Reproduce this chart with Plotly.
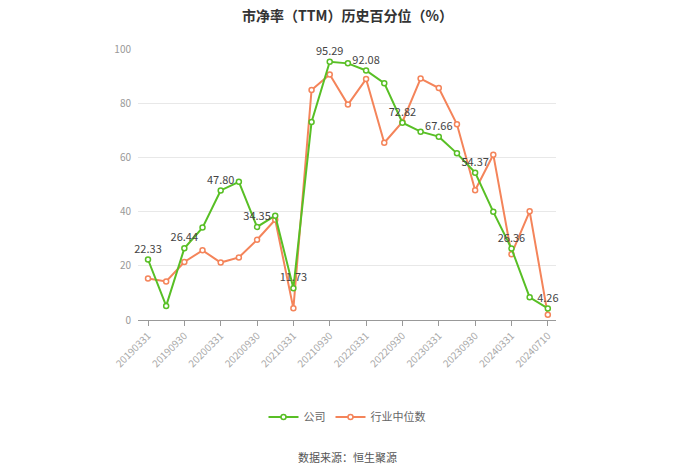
import plotly.graph_objects as go

dates = ["20190331", "20190630", "20190930", "20191231",
         "20200331", "20200630", "20200930", "20201231",
         "20210331", "20210630", "20210930", "20211231",
         "20220331", "20220630", "20220930", "20221231",
         "20230331", "20230630", "20230930", "20231231",
         "20240331", "20240630", "20240710"]

company = [22.33, 5.2, 26.44, 34.1, 47.80, 51.0, 34.35, 38.5, 11.73, 73.1,
           95.29, 94.7, 92.08, 87.4, 72.82, 69.5, 67.66, 61.5, 54.37, 39.9,
           26.36, 8.4, 4.26]

industry = [15.3, 14.2, 21.4, 25.7, 21.2, 23.1, 29.6, 37.0, 4.3, 84.9,
            90.6, 79.5, 88.9, 65.4, 73.1, 89.1, 85.6, 72.2, 47.9, 61.0,
            24.3, 40.1, 1.9]

title_text = "<b>市净率（TTM）历史百分位（%）</b>"
source_text = "数据来源：恒生聚源"

label_idx = list(range(0, len(dates), 2))
company_text = [f"{v:.2f}" if i in label_idx else "" for i, v in enumerate(company)]

green = "#58bf25"
orange = "#f4845a"
font_family = "Noto Sans CJK SC, Noto Sans, sans-serif"

W, H = 700, 474
OFF = 8  # page body margin
x = list(range(len(dates)))

fig = go.Figure()
fig.add_trace(go.Scatter(
    x=x, y=industry, name="行业中位数", mode="lines+markers",
    line=dict(color=orange, width=2),
    marker=dict(symbol="circle", size=5, color="white", line=dict(color=orange, width=1.5)),
    cliponaxis=False,
))
fig.add_trace(go.Scatter(
    x=x, y=company, name="公司", mode="lines+markers+text",
    line=dict(color=green, width=2),
    marker=dict(symbol="circle", size=5, color="white", line=dict(color=green, width=1.5)),
    text=company_text, textposition="top center",
    textfont=dict(size=11, color="#444444", family=font_family),
    cliponaxis=False,
))

plot_top = 49 - OFF
plot_bottom = 320 - OFF
plot_left = 138 - OFF
plot_right = 556 - OFF
plot_h = plot_bottom - plot_top
plot_w = plot_right - plot_left

fig.update_layout(
    width=W, height=H,
    margin=dict(l=plot_left, r=W - plot_right, t=plot_top, b=H - plot_bottom),
    paper_bgcolor="white", plot_bgcolor="white",
    font=dict(family=font_family, color="#666666"),
    showlegend=True,
    legend=dict(orientation="h", x=0.5, xanchor="center", y=1 - (417 - OFF) / H, yanchor="middle",
                yref="container", traceorder="reversed",
                font=dict(size=11, color="#666666", family=font_family),
                itemwidth=30),
    xaxis=dict(
        range=[-0.55, len(dates) - 1 + 0.45],
        tickmode="array", tickvals=label_idx, ticktext=[dates[i] for i in label_idx],
        tickangle=-45, tickfont=dict(size=10, color="#aaaaaa"),
        showgrid=False, showline=True, linecolor="#999999", linewidth=1,
        ticks="outside", ticklen=5, tickcolor="#999999", zeroline=False,
    ),
    yaxis=dict(
        range=[0, 100], tick0=0, dtick=20,
        tickfont=dict(size=10, color="#999999"),
        showgrid=True, gridcolor="#e8e8e8", gridwidth=1,
        showline=False, zeroline=False, ticks="", ticklabelstandoff=6,
    ),
    annotations=[
        dict(
            text=title_text, x=(347 - OFF - plot_left) / plot_w, xref="paper",
            y=(plot_bottom - (15 - OFF)) / plot_h, yref="paper",
            xanchor="center", yanchor="middle", showarrow=False,
            font=dict(size=14, color="#333333", family=font_family),
        ),
        dict(
            text=source_text, x=0.5, xref="paper", y=(plot_bottom - (457 - OFF)) / plot_h, yref="paper",
            xanchor="center", yanchor="middle", showarrow=False,
            font=dict(size=11, color="#555555", family=font_family),
        ),
    ],
)

fig.write_html("out.html")
